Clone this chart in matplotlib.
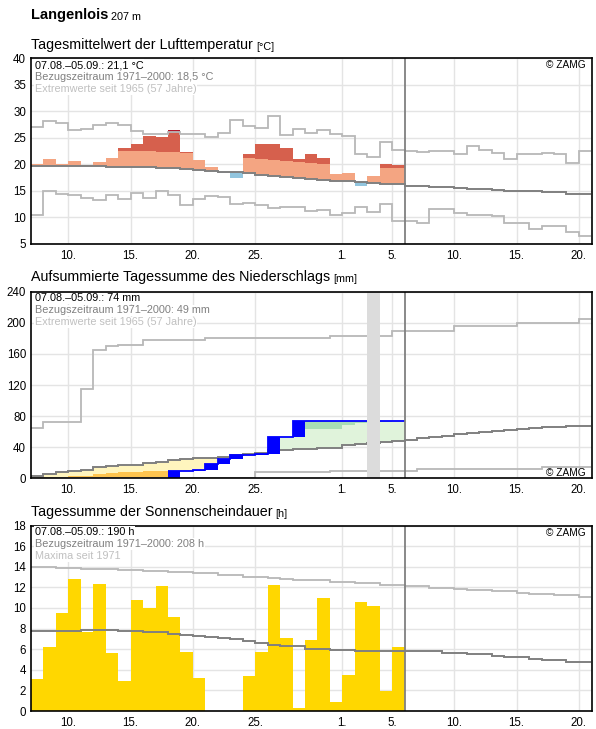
import numpy as np
import matplotlib
matplotlib.use('Agg')
import matplotlib.pyplot as plt
from matplotlib.transforms import ScaledTranslation

plt.rcParams['font.family'] = ['Liberation Sans', 'DejaVu Sans']

# ---------------- data ----------------
station = "Langenlois"
altitude = "207 m"
tick_days = [3, 8, 13, 18, 25, 29, 34, 39, 44]
tick_labels = ['10.', '15.', '20.', '25.', '1.', '5.', '10.', '15.', '20.']
n_days_total = 45     # 07.08. .. 20.09.
now_day = 30          # end of 05.09.

# temperature (daily mean, 07.08.-05.09.)
temp_actual = [20.1, 21.1, 20.1, 20.6, 19.8, 20.4, 21.3, 23.0, 23.8, 25.3,
               25.1, 26.4, 22.4, 20.75, 19.45, 18.35, 17.45, 22.05, 23.9, 23.9,
               23.0, 21.1, 22.05, 21.3, 18.1, 18.3, 15.95, 17.9, 20.0, 19.8]
temp_clim = [19.75, 19.75, 19.75, 19.75, 19.75, 19.75, 19.56, 19.56, 19.56, 19.56,
             19.4, 19.4, 19.2, 19.0, 18.8, 18.6, 18.5, 18.3, 17.95, 17.75,
             17.55, 17.4, 17.3, 17.1, 16.9, 16.8, 16.6, 16.45, 16.4, 16.25,
             16.0, 16.0, 15.8, 15.8, 15.6, 15.45, 15.45, 15.25, 15.06, 15.06,
             14.9, 14.75, 14.75, 14.5, 14.5]
temp_max = [27.1, 28.2, 27.8, 26.5, 26.7, 27.4, 27.8, 27.4, 26.3, 25.75,
            25.75, 26.2, 25.75, 25.75, 25.25, 25.9, 28.4, 27.25, 26.9, 29.1,
            25.6, 26.7, 25.9, 26.5, 25.75, 25.4, 21.9, 21.4, 24.2, 22.8,
            22.55, 22.4, 22.55, 22.55, 22.0, 23.5, 22.75, 22.2, 21.05, 22.0,
            22.0, 22.2, 22.0, 20.3, 22.55]
temp_min = [10.4, 14.9, 14.5, 14.3, 13.6, 13.2, 14.3, 13.4, 14.7, 13.75,
            15.05, 14.3, 12.4, 13.4, 14.1, 13.9, 12.6, 12.8, 12.4, 11.7,
            11.9, 12.05, 11.3, 11.5, 10.4, 10.9, 11.9, 11.1, 12.6, 9.4,
            9.25, 8.9, 11.55, 11.55, 10.75, 10.4, 10.4, 10.2, 8.9, 8.9,
            7.8, 8.3, 8.3, 7.2, 6.5]
temp_band = 3.0   # offset of the "strong anomaly" colour band

# precipitation
precip_daily = [0, 0, 0, 0, 0, 0, 0, 0, 0, 0,
                0, 9.0, 0.4, 1.2, 7.4, 6.4, 6.0, 0.0, 0.4, 21.9,
                0.0, 20.5, 0.0, 0.0, 0.9, 0.0, 0.0, 0.0, 0.0, 0.0]
precip_clim = [3.0, 6.0, 8.7, 10.0, 11.3, 13.9, 15.2, 16.5, 17.7, 20.3,
               21.6, 22.9, 24.2, 25.5, 26.6, 27.4, 30.0, 31.2, 33.0, 36.0,
               36.8, 38.1, 38.1, 39.4, 39.4, 42.8, 43.7, 45.4, 46.7, 48.5,
               49.9, 51.6, 53.7, 55.0, 56.7, 58.0, 59.7, 61.0, 62.3, 63.6,
               64.9, 66.2, 66.6, 67.5, 67.5]
precip_max = [65, 72.8, 72.8, 72.8, 115, 164.5, 170.5, 172, 172, 178.5,
              178.5, 178.5, 178.5, 178.5, 180, 180, 180, 180, 180, 180,
              180, 180, 180, 180, 183.5, 183.5, 183.5, 183.5, 183.5, 189,
              189, 189, 189, 189, 196, 196, 196, 196, 196, 199.5,
              199.5, 199.5, 199.5, 199.5, 204.5]
precip_min = [0, 0, 0, 0, 0, 0, 0, 0, 0, 0,
              0, 0, 0, 0, 0, 0, 0, 0, 7.8, 7.8,
              7.8, 8.5, 8.5, 8.5, 9.2, 9.2, 9.2, 9.2, 9.2, 9.2,
              9.2, 12.2, 12.2, 12.2, 12.2, 12.2, 12.2, 12.2, 12.2, 12.2,
              12.2, 14.3, 14.3, 14.3, 14.3]
precip_low_band = [1.3, 2.2, 2.2, 2.6, 3.5, 5.2, 6.5, 7.8, 8.2, 9.1,
                   9.1, 9.5, 10.0, 11.0, 11.5, 12.0, 12.5, 13.0, 13.5, 14.5,
                   15.0, 15.5, 16.0, 16.5, 17.0, 17.5, 18.0, 18.5, 19.0, 19.5]
precip_high_band = [5, 9, 13, 15, 17, 21, 23, 25, 27, 31,
                    33, 35, 37, 39, 42, 43, 47, 49, 52, 57,
                    59, 61, 63, 63, 64, 68.5, 71, 72, 73, 76]
precip_missing_day = 27

# sunshine
sun_hours = [3.1, 6.2, 9.5, 12.8, 7.7, 12.3, 5.6, 2.9, 10.8, 10.0,
             12.1, 9.1, 5.7, 3.2, 0, 0, 0, 3.4, 5.7, 12.2,
             7.1, 0.25, 6.9, 11.0, 0.85, 3.5, 10.6, 10.2, 1.9, 6.2]
sun_clim = [7.73, 7.73, 7.73, 7.73, 7.86, 7.86, 7.86, 7.73, 7.73, 7.63,
            7.63, 7.47, 7.37, 7.27, 7.17, 7.04, 6.94, 6.75, 6.59, 6.39,
            6.3, 6.26, 6.0, 6.0, 5.9, 5.9, 5.8, 5.8, 5.8, 5.8,
            5.8, 5.8, 5.8, 5.67, 5.67, 5.5, 5.5, 5.35, 5.2, 5.2,
            5.09, 4.96, 4.96, 4.76, 4.76]
sun_max = [13.95, 13.95, 13.86, 13.86, 13.76, 13.76, 13.76, 13.66, 13.66, 13.56,
           13.56, 13.47, 13.47, 13.37, 13.37, 13.24, 13.24, 13.04, 13.04, 12.91,
           12.85, 12.72, 12.72, 12.72, 12.52, 12.52, 12.39, 12.39, 12.26, 12.26,
           12.16, 12.16, 11.97, 11.97, 11.87, 11.74, 11.74, 11.61, 11.61, 11.48,
           11.35, 11.35, 11.22, 11.22, 11.02]

texts_temp = ["07.08.–05.09.: 21,1 °C", "Bezugszeitraum 1971–2000: 18,5 °C",
              "Extremwerte seit 1965 (57 Jahre)"]
texts_prec = ["07.08.–05.09.: 74 mm", "Bezugszeitraum 1971–2000: 49 mm",
              "Extremwerte seit 1965 (57 Jahre)"]
texts_sun = ["07.08.–05.09.: 190 h", "Bezugszeitraum 1971–2000: 208 h",
             "Maxima seit 1971"]

# ---------------- styling ----------------
C_CLIM = '#808080'
C_EXT = '#b8b8b8'
C_GRID = '#e4e4e4'
FS_TICK = 8.3
FS_TXT = 7.8

W, H = 596, 729
fig = plt.figure(figsize=(W / 100, H / 100), dpi=100)


def make_ax(top_px, bot_px):
    left, right = 31, 592
    return fig.add_axes([left / W, 1 - bot_px / H, (right - left) / W, (bot_px - top_px) / H])


def arr(a):
    return np.asarray(a, dtype=float)


def edges(n):
    return np.arange(n + 1)


def sline(ax, vals, **kw):
    v = arr(vals)
    ax.stairs(v, edges(len(v)), baseline=None, **kw)


def sfill(ax, lo, hi, color, z=1.5):
    lo, hi = arr(lo), arr(hi)
    x = edges(len(lo))
    ax.fill_between(x, np.append(lo, lo[-1]), np.append(hi, hi[-1]), step='post',
                    color=color, lw=0, zorder=z)


def style(ax, ylim, yticks):
    ax.set_xlim(0, n_days_total + 0.05)
    ax.set_ylim(*ylim)
    ax.set_yticks(yticks)
    ax.set_xticks(tick_days)
    ax.set_xticklabels(tick_labels)
    ax.tick_params(length=0, labelsize=FS_TICK)
    ax.tick_params(axis='x', pad=4)
    ax.tick_params(axis='y', pad=3.5)
    ax.grid(True, color=C_GRID, lw=1)
    ax.set_axisbelow(True)
    for s in ax.spines.values():
        s.set_linewidth(1.2)
        s.set_color('black')
        s.set_zorder(6)
    ax.axvline(now_day, color=C_CLIM, lw=1.3, zorder=5)


def px_text(ax, base, dx, dy, s, **kw):
    trans = ax.transAxes + ScaledTranslation(dx / 100, dy / 100, fig.dpi_scale_trans)
    return ax.text(base[0], base[1], s, transform=trans, **kw)


def legend_texts(ax, lines):
    cols = ['black', '#808080', '#c0c0c0']
    for i, (s, c) in enumerate(zip(lines, cols)):
        px_text(ax, (0, 1), 4, -(6.7 + 12 * i), s, color=c, fontsize=FS_TXT,
                ha='left', va='center', zorder=7,
                bbox=dict(facecolor='white', edgecolor='none', pad=0.6))


def title(y_px, main, unit):
    t = fig.text(31 / W, 1 - y_px / H, main, fontsize=10.3, ha='left', va='center')
    fig.canvas.draw()
    bb = t.get_window_extent()
    fig.text(bb.x1 / W + 3 / W, bb.y0 / H, unit, fontsize=7.8, ha='left', va='bottom')


# header
t = fig.text(31 / W, 1 - 14.5 / H, station, fontsize=10.5, fontweight='bold', ha='left', va='center')
fig.canvas.draw()
bb = t.get_window_extent()
fig.text(bb.x1 / W + 3 / W, bb.y0 / H, altitude, fontsize=7.8, ha='left', va='bottom')

# ---------------- panel 1: temperature ----------------
ax1 = make_ax(58.3, 244)
style(ax1, (5, 40), np.arange(5, 41, 5))
T = arr(temp_actual)
n = len(T)
cl = arr(temp_clim)[:n]
mx = arr(temp_max)[:n]
sfill(ax1, np.minimum(T, cl), cl, '#92c5de')
sfill(ax1, cl, np.clip(T, cl, cl + temp_band), '#f4a582')
sfill(ax1, cl + temp_band, np.maximum(T, cl + temp_band), '#d6604d')
sfill(ax1, mx, np.maximum(T, mx), '#b2182b')
sline(ax1, temp_max, color=C_EXT, lw=1.3, zorder=3)
sline(ax1, temp_min, color=C_EXT, lw=1.3, zorder=3)
sline(ax1, temp_clim, color=C_CLIM, lw=1.4, zorder=3.5)
legend_texts(ax1, texts_temp)
px_text(ax1, (1, 1), -6, -6.7, "© ZAMG", fontsize=7.3, ha='right', va='center', zorder=7)
title(44.5, "Tagesmittelwert der Lufttemperatur", "[°C]")

# ---------------- panel 2: precipitation ----------------
ax2 = make_ax(291.7, 478.3)
style(ax2, (0, 240), np.arange(0, 241, 40))
P = arr(precip_daily)
n = len(P)
cum = np.cumsum(P)
prev = cum - P
pc = arr(precip_clim)[:n]
lowb = arr(precip_low_band)
highb = arr(precip_high_band)
sfill(ax2, np.minimum(cum, pc), pc, '#fff5be')
sfill(ax2, np.minimum(cum, lowb), lowb, '#fec44f')
sfill(ax2, pc, np.maximum(cum, pc), '#e0f3db')
sfill(ax2, highb, np.maximum(cum, highb), '#a8ddb5')
sline(ax2, precip_max, color=C_EXT, lw=1.3, zorder=3)
sline(ax2, precip_min, color=C_EXT, lw=1.3, zorder=3)
sline(ax2, precip_clim, color=C_CLIM, lw=1.4, zorder=3.5)
days = np.arange(n)
wet = P > 0
ax2.bar(days[wet], P[wet], bottom=prev[wet], width=1, align='edge', color='#0000ff', lw=0, zorder=3.8)
first = int(np.argmax(cum > 0))
ax2.stairs(cum[first:], np.arange(first, n + 1), baseline=None, color='#0000ff', lw=1.3, zorder=3.9)
ax2.axvspan(precip_missing_day, precip_missing_day + 1, color='#dcdcdc', lw=0, zorder=4.5)
legend_texts(ax2, texts_prec)
px_text(ax2, (1, 0), -6, 5.5, "© ZAMG", fontsize=7.3, ha='right', va='center', zorder=7)
title(277.5, "Aufsummierte Tagessumme des Niederschlags", "[mm]")

# ---------------- panel 3: sunshine ----------------
ax3 = make_ax(525.5, 711)
style(ax3, (0, 18), np.arange(0, 19, 2))
S = arr(sun_hours)
ax3.bar(np.arange(len(S)), S, width=1, align='edge', color='#ffd700', lw=0, zorder=2)
sline(ax3, sun_max, color=C_EXT, lw=1.3, zorder=3)
sline(ax3, sun_clim, color=C_CLIM, lw=1.4, zorder=3.5)
legend_texts(ax3, texts_sun)
px_text(ax3, (1, 1), -6, -7.5, "© ZAMG", fontsize=7.3, ha='right', va='center', zorder=7)
title(512, "Tagessumme der Sonnenscheindauer", "[h]")

fig.savefig('out.png', dpi=100)
